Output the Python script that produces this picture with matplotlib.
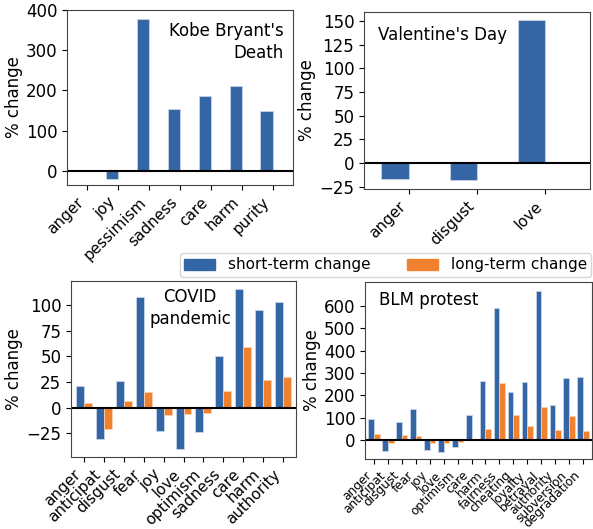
import matplotlib
matplotlib.use("Agg")
import matplotlib.pyplot as plt
import numpy as np
from matplotlib.patches import Patch

# ---------------- data ----------------
kobe_cats = ["anger", "joy", "pessimism", "sadness", "care", "harm", "purity"]
kobe_short = [0, -20, 378, 154, 185, 211, 149]

val_cats = ["anger", "disgust", "love"]
val_short = [-17, -18, 151]

covid_cats = ["anger", "anticipat", "disgust", "fear", "joy", "love",
              "optimism", "sadness", "care", "harm", "authority"]
covid_short = [21, -30, 26, 108, -23, -40, -24, 50, 116, 95, 103]
covid_long = [4.6, -21, 6.8, 15, -7, -6.5, -5.5, 16.3, 59, 27.5, 30]

blm_cats = ["anger", "anticipat", "disgust", "fear", "joy", "love",
            "optimism", "care", "harm", "fairness", "cheating", "loyalty",
            "betrayal", "authority", "subversion", "degradation"]
blm_short = [94, -48, 82, 138, -45, -52, -31, 112, 266, 592, 213, 261,
             666, 155, 276, 284]
blm_long = [27, -15, 22, 16, -13, -15, -7, 0, 48, 255, 112, 64,
            149, 44, 108, 40]

legend_labels = ["short-term change", "long-term change"]

BLUE = "#3465a4"
ORANGE = "#f0812e"

W, H = 593, 529
fig = plt.figure(figsize=(W / 100, H / 100), dpi=100)


def add_ax(l, r, t, b):
    return fig.add_axes([l / W, (H - b) / H, (r - l) / W, (b - t) / H])


def draw(ax, cats, short, long=None, ylim=None, yticks=None, xfs=11):
    x = np.arange(len(cats))
    ax.bar(x - 0.2, short, width=0.4, color=BLUE, edgecolor="#c8d4e8",
           linewidth=0.6)
    if long is not None:
        ax.bar(x + 0.2, long, width=0.4, color=ORANGE, edgecolor="#f8d0b0",
               linewidth=0.6)
    ax.axhline(0, color="black", lw=1.5)
    ax.set_xlim(-0.65, len(cats) - 0.35)
    ax.set_ylim(*ylim)
    ax.set_yticks(yticks)
    ax.set_xticks(x)
    ax.set_xticklabels(cats, rotation=45, ha="right", fontsize=xfs)
    ax.tick_params(axis="y", labelsize=12)
    ax.set_ylabel("% change", fontsize=12, labelpad=2)
    for s in ax.spines.values():
        s.set_color("#444444")


ax1 = add_ax(67, 293, 10, 185)
draw(ax1, kobe_cats, kobe_short, ylim=(-35, 400), yticks=[0, 100, 200, 300, 400])
ax1.text(0.96, 0.93, "Kobe Bryant's\nDeath", transform=ax1.transAxes,
         ha="right", va="top", fontsize=12, linespacing=1.3)

ax2 = add_ax(364, 590, 12, 189)
draw(ax2, val_cats, val_short, ylim=(-27.5, 159.5),
     yticks=[-25, 0, 25, 50, 75, 100, 125, 150])
ax2.text(0.06, 0.87, "Valentine's Day", transform=ax2.transAxes,
         ha="left", va="center", fontsize=12)

ax3 = add_ax(71, 296, 281, 457)
draw(ax3, covid_cats, covid_short, covid_long, ylim=(-48, 123.5),
     yticks=[-25, 0, 25, 50, 75, 100])
ax3.text(0.53, 0.96, "COVID\npandemic", transform=ax3.transAxes,
         ha="center", va="top", fontsize=12, linespacing=1.3)

ax4 = add_ax(365, 592, 282, 459)
draw(ax4, blm_cats, blm_short, blm_long, ylim=(-85, 707),
     yticks=[0, 100, 200, 300, 400, 500, 600], xfs=8.7)
ax4.text(0.06, 0.90, "BLM protest", transform=ax4.transAxes,
         ha="left", va="center", fontsize=12)

handles = [Patch(facecolor=BLUE, edgecolor=BLUE),
           Patch(facecolor=ORANGE, edgecolor=ORANGE)]
fig.legend(handles, legend_labels, ncol=2, loc="center",
           bbox_to_anchor=(385.5 / W, (H - 265) / H), fontsize=11,
           columnspacing=2.4, handlelength=2.0, handletextpad=0.85,
           frameon=True, borderpad=0.3)

fig.savefig("out.png", dpi=100)
